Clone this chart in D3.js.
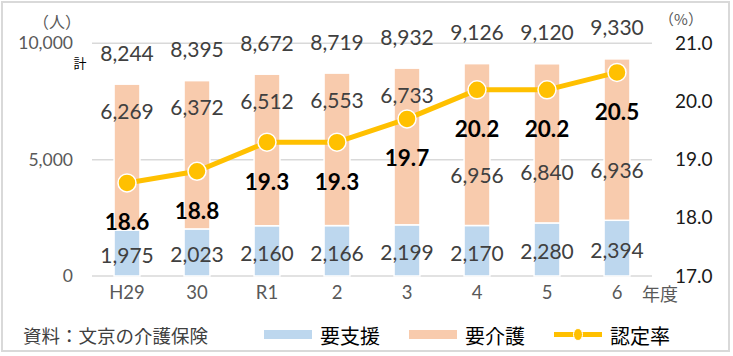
<!DOCTYPE html>
<html><head><meta charset="utf-8">
<script src="https://cdn.jsdelivr.net/npm/d3@7"></script>
<style>
html,body{margin:0;padding:0;background:#fff;}
svg{display:block;}
</style></head>
<body>
<svg id="c" width="733" height="356"></svg>
<script>
const categories = ["H29","30","R1","2","3","4","5","6"];
const support = [1975,2023,2160,2166,2199,2170,2280,2394];
const care = [6269,6372,6512,6553,6733,6956,6840,6936];
const totals = [8244,8395,8672,8719,8932,9126,9120,9330];
const rate = [18.6,18.8,19.3,19.3,19.7,20.2,20.2,20.5];
const leftTicks = [0,5000,10000];
const rightTicks = [17,18,19,20,21];
const seriesNames = ["要支援","要介護","認定率"];

(function(){
const svg = d3.select("#c");
const numFont = "Lato, 'Liberation Sans', sans-serif";
const jpFont = "'Noto Sans CJK JP', sans-serif";
const blue = "#BDD7EE", orange = "#F8CBAD", gold = "#FFC000";

const pL = 92, pR = 652, pT = 43.3, pB = 276;
const x = d3.scaleBand().domain(categories).range([pL, pR]).paddingInner(0.63).paddingOuter(0.315);
const y = d3.scaleLinear().domain([0,10000]).range([pB, pT]);
const yr = d3.scaleLinear().domain([17,21]).range([pB, pT]);
const cx = c => x(c) + x.bandwidth()/2;

// border
svg.append("rect").attr("x",2).attr("y",2).attr("width",727).attr("height",349)
  .attr("fill","none").attr("stroke","#d9d9d9").attr("stroke-width",2);

// gridlines
svg.append("g").selectAll("line").data(leftTicks).join("line")
  .attr("x1",pL).attr("x2",pR).attr("y1",d=>y(d)).attr("y2",d=>y(d))
  .attr("stroke","#d9d9d9").attr("stroke-width",1.5);

// left axis
const ga = svg.append("g").attr("transform",`translate(${pL},0)`)
  .call(d3.axisLeft(y).tickValues(leftTicks).tickFormat(d3.format(",")).tickSize(0).tickPadding(19));
ga.select(".domain").remove();
ga.selectAll("text").attr("font-family",numFont).attr("font-size",17.5).attr("fill","#595959");

// right axis
const gr = svg.append("g").attr("transform",`translate(${pR},0)`)
  .call(d3.axisRight(yr).tickValues(rightTicks).tickFormat(d3.format(".1f")).tickSize(0).tickPadding(23));
gr.select(".domain").remove();
gr.selectAll("text").attr("font-family",numFont).attr("font-size",19).attr("fill","#1a1a1a");

// x axis
const gx = svg.append("g").attr("transform",`translate(0,${pB})`)
  .call(d3.axisBottom(x).tickSize(0).tickPadding(10));
gx.select(".domain").remove();
gx.selectAll("text").attr("font-family",numFont).attr("font-size",18.5).attr("fill","#595959");

// unit labels
svg.append("text").attr("x",57).attr("y",21).attr("text-anchor","middle").attr("dominant-baseline","central")
  .attr("font-family",jpFont).attr("font-size",16).attr("fill","#595959").text("（人）");
svg.append("text").attr("x",80).attr("y",62).attr("text-anchor","middle").attr("dominant-baseline","central")
  .attr("font-family",jpFont).attr("font-size",13).attr("fill","#000").text("計");
svg.append("text").attr("x",681).attr("y",18).attr("text-anchor","middle").attr("dominant-baseline","central")
  .attr("font-family",jpFont).attr("font-size",15).attr("fill","#595959").text("（%）");
svg.append("text").attr("x",660).attr("y",293).attr("text-anchor","middle").attr("dominant-baseline","central")
  .attr("font-family",jpFont).attr("font-size",18).attr("fill","#595959").text("年度");

// bars
const bars = svg.append("g");
bars.selectAll("rect.s").data(categories).join("rect").attr("class","s")
  .attr("x",d=>x(d)).attr("width",x.bandwidth())
  .attr("y",(d,i)=>y(support[i])).attr("height",(d,i)=>y(0)-y(support[i]))
  .attr("fill",blue).attr("stroke","#fff").attr("stroke-width",1.5);
bars.selectAll("rect.c").data(categories).join("rect").attr("class","c")
  .attr("x",d=>x(d)).attr("width",x.bandwidth())
  .attr("y",(d,i)=>y(support[i]+care[i])).attr("height",(d,i)=>y(support[i])-y(support[i]+care[i]))
  .attr("fill",orange).attr("stroke","#fff").attr("stroke-width",1.5);

// line
const line = d3.line().x((d,i)=>cx(categories[i])).y(d=>yr(d));
svg.append("path").datum(rate).attr("d",line).attr("fill","none").attr("stroke",gold)
  .attr("stroke-width",5).attr("stroke-linejoin","round");
svg.append("g").selectAll("circle").data(rate).join("circle")
  .attr("cx",(d,i)=>cx(categories[i])).attr("cy",d=>yr(d)).attr("r",9)
  .attr("fill",gold).attr("stroke","#fff").attr("stroke-width",1.5);

// labels
const lab = svg.append("g").attr("font-family",numFont).attr("text-anchor","middle").attr("dominant-baseline","central");
lab.selectAll("text.t").data(totals).join("text").attr("class","t")
  .attr("x",(d,i)=>cx(categories[i])).attr("y",d=>y(d)-32)
  .attr("font-size",21).attr("fill","#404040").text(d3.format(","));
lab.selectAll("text.s").data(support).join("text").attr("class","s")
  .attr("x",(d,i)=>cx(categories[i])).attr("y",d=>(y(0)+y(d))/2+1.5)
  .attr("font-size",21).attr("fill","#404040").text(d3.format(","));
lab.selectAll("text.c").data(care).join("text").attr("class","c")
  .attr("x",(d,i)=>cx(categories[i]))
  .attr("y",(d,i)=>{
    const hi = y(support[i]+d)+26;
    return Math.abs(yr(rate[i]) - hi) < 20 ? y(support[i]) - 51 : hi;
  })
  .attr("font-size",21).attr("fill","#404040").text(d3.format(","));
lab.selectAll("text.r").data(rate).join("text").attr("class","r")
  .attr("x",(d,i)=>cx(categories[i])).attr("y",d=>yr(d)+39)
  .attr("font-size",22.5).attr("font-weight","bold").attr("fill","#000").text(d3.format(".1f"));

// source
svg.append("text").attr("x",23).attr("y",335).attr("dominant-baseline","central")
  .attr("font-family",jpFont).attr("font-size",18.5).attr("fill","#404040").text("資料：文京の介護保険");

// legend
const lg = svg.append("g");
const lx = [264,409,554];
lg.append("rect").attr("x",lx[0]).attr("y",330).attr("width",48).attr("height",9).attr("fill",blue);
lg.append("rect").attr("x",lx[1]).attr("y",330).attr("width",48).attr("height",9).attr("fill",orange);
lg.append("line").attr("x1",lx[2]).attr("x2",lx[2]+48).attr("y1",334.5).attr("y2",334.5)
  .attr("stroke",gold).attr("stroke-width",5);
lg.append("ellipse").attr("cx",lx[2]+24).attr("cy",334.5).attr("rx",4.5).attr("ry",6)
  .attr("fill",gold).attr("stroke","#fff").attr("stroke-width",1);
lg.selectAll("text").data(seriesNames).join("text")
  .attr("x",(d,i)=>lx[i]+56).attr("y",335).attr("dominant-baseline","central")
  .attr("font-family",jpFont).attr("font-size",20).attr("fill","#000").text(d=>d);
})();
</script>
</body></html>
